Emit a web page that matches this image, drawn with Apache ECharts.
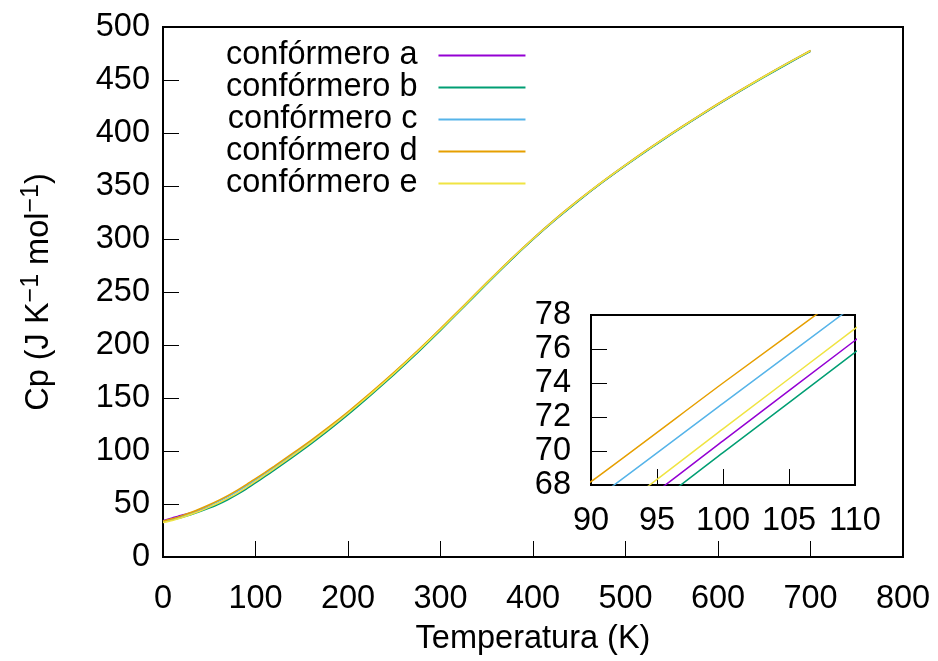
<!DOCTYPE html>
<html>
<head>
<meta charset="utf-8">
<script src="https://cdn.jsdelivr.net/npm/echarts@6/dist/echarts.min.js"></script>
<style>
  html, body { margin: 0; padding: 0; background: #fff; }
  #chart { width: 938px; height: 661px; }
</style>
</head>
<body>
<div id="chart"></div>
<script>
// Temperature grid (K)
const temps = [0, 10, 20, 30, 40, 50, 60, 70, 80, 90, 100, 110, 120, 140, 160, 180, 200,
  225, 250, 275, 300, 325, 350, 375, 400, 425, 450, 475, 500, 525, 550, 575, 600, 625, 650, 675, 700];

// Heat capacity Cp (J K^-1 mol^-1) for each conformer
const confA = [34.3, 36.8, 39.4, 41.5, 43.9, 47.0, 50.6, 54.8, 59.5, 64.7, 70.6, 76.5, 82.4, 94.7, 107.4, 120.8, 134.9,
  153.5, 172.9, 193.2, 214.3, 236.1, 258.1, 279.5, 299.8, 318.9, 336.8, 353.6, 369.5, 384.7, 399.3, 413.4, 427.1, 440.3, 453.1, 465.4, 477.3];
const confB = [33.4, 35.1, 37.3, 39.9, 42.8, 46.1, 49.8, 54.0, 58.8, 64.0, 69.9, 75.8, 81.7, 94.0, 106.7, 120.1, 134.2,
  152.9, 172.3, 192.6, 213.8, 235.6, 257.6, 279.1, 299.5, 318.6, 336.5, 353.3, 369.2, 384.4, 399.0, 413.1, 426.8, 440.0, 452.8, 465.1, 477.0];
const confC = [33.6, 35.7, 38.4, 41.5, 44.9, 48.5, 52.5, 56.9, 61.7, 67.0, 72.8, 78.6, 84.5, 96.6, 109.2, 122.4, 136.3,
  154.7, 173.9, 194.0, 215.1, 236.8, 258.6, 280.0, 300.3, 319.4, 337.2, 354.0, 369.9, 385.1, 399.7, 413.8, 427.5, 440.7, 453.5, 465.8, 477.7];
const confD = [33.8, 36.0, 38.8, 42.0, 45.5, 49.3, 53.4, 57.9, 62.8, 68.2, 74.0, 79.7, 85.6, 97.7, 110.1, 123.2, 137.0,
  155.3, 174.4, 194.5, 215.5, 237.1, 258.9, 280.2, 300.5, 319.6, 337.4, 354.2, 370.0, 385.2, 399.8, 413.9, 427.6, 440.8, 453.6, 465.9, 477.8];
const confE = [32.5, 34.5, 37.1, 40.1, 43.4, 47.0, 50.9, 55.3, 60.1, 65.4, 71.3, 77.2, 83.1, 95.4, 108.1, 121.5, 135.6,
  154.1, 173.4, 193.6, 214.7, 236.4, 258.3, 279.7, 300.0, 319.1, 337.0, 353.8, 369.7, 384.9, 399.5, 413.6, 427.3, 440.5, 453.3, 465.6, 477.5];

const seriesNames = ['confórmero a', 'confórmero b', 'confórmero c', 'confórmero d', 'confórmero e'];
const seriesValues = [confA, confB, confC, confD, confE];
const seriesColors = ['#9400d3', '#009e73', '#56b4e9', '#e69f00', '#f0e442'];

const FONT = '"Liberation Sans", Arial, Helvetica, sans-serif';
const FS = 32.5;

function pairs(values) {
  return temps.map((t, i) => [t, values[i]]);
}

const series = [];
// main plot curves
seriesValues.forEach((vals, k) => {
  series.push({
    name: seriesNames[k], type: 'line', xAxisIndex: 0, yAxisIndex: 0,
    data: pairs(vals), showSymbol: false, symbol: 'none', smooth: 0.2,
    color: seriesColors[k], lineStyle: { width: 1.5, color: seriesColors[k] },
    emphasis: { disabled: true }, animation: false, z: 2 + k
  });
});
// zoomed inset curves
seriesValues.forEach((vals, k) => {
  series.push({
    name: seriesNames[k], type: 'line', xAxisIndex: 1, yAxisIndex: 1,
    data: pairs(vals), showSymbol: false, symbol: 'none', smooth: 0.2, clip: true,
    color: seriesColors[k], lineStyle: { width: 1.5, color: seriesColors[k] },
    emphasis: { disabled: true }, animation: false, z: 12 + k
  });
});

const tickStyle = { inside: true, length: 16, lineStyle: { color: '#000', width: 1 } };
const labelStyle = { color: '#000', fontSize: FS, fontFamily: FONT };

const chart = echarts.init(document.getElementById('chart'), null, { renderer: 'canvas' });
chart.setOption({
  backgroundColor: '#fff',
  animation: false,
  legend: {
    data: seriesNames,
    orient: 'vertical',
    left: 221, top: 34,
    align: 'right',
    icon: 'rect',
    itemWidth: 87, itemHeight: 2,
    itemGap: -1,
    selectedMode: false,
    textStyle: { color: '#000', fontSize: FS, fontFamily: FONT, lineHeight: 30.3, padding: [0, 16, 0, 0] }
  },
  grid: [
    { left: 163, top: 27, width: 740, height: 534, show: true, borderColor: '#000', borderWidth: 2, backgroundColor: 'transparent', containLabel: false },
    { left: 591, top: 315, width: 264, height: 170, show: true, borderColor: '#000', borderWidth: 2, backgroundColor: '#fff', containLabel: false, z: 10 }
  ],
  xAxis: [
    {
      type: 'value', gridIndex: 0, min: 0, max: 800, interval: 100,
      name: 'Temperatura (K)', nameLocation: 'middle', nameGap: 66,
      nameTextStyle: labelStyle,
      axisLine: { show: false }, axisTick: tickStyle,
      axisLabel: Object.assign({ margin: 26 }, labelStyle),
      splitLine: { show: false }
    },
    {
      type: 'value', gridIndex: 1, min: 90, max: 110, interval: 5,
      axisLine: { show: false }, axisTick: tickStyle,
      axisLabel: Object.assign({ margin: 20 }, labelStyle),
      splitLine: { show: false }, z: 10
    }
  ],
  yAxis: [
    {
      type: 'value', gridIndex: 0, min: 0, max: 500, interval: 50,
      name: '{t|Cp (J K}{s|−1}{t| mol}{s|−1}{t|)}', nameLocation: 'middle', nameGap: 104,
      nameTextStyle: {
        color: '#000', fontFamily: FONT, fontSize: FS,
        rich: {
          t: { color: '#000', fontFamily: FONT, fontSize: FS, lineHeight: 40 },
          s: { color: '#000', fontFamily: FONT, fontSize: 25, lineHeight: 40, verticalAlign: 'top' }
        }
      },
      axisLine: { show: false }, axisTick: tickStyle,
      axisLabel: Object.assign({ margin: 13 }, labelStyle),
      splitLine: { show: false }
    },
    {
      type: 'value', gridIndex: 1, min: 68, max: 78, interval: 2,
      axisLine: { show: false }, axisTick: tickStyle,
      axisLabel: Object.assign({ margin: 20 }, labelStyle),
      splitLine: { show: false }, z: 10
    }
  ],
  series: series
});
</script>
</body>
</html>
